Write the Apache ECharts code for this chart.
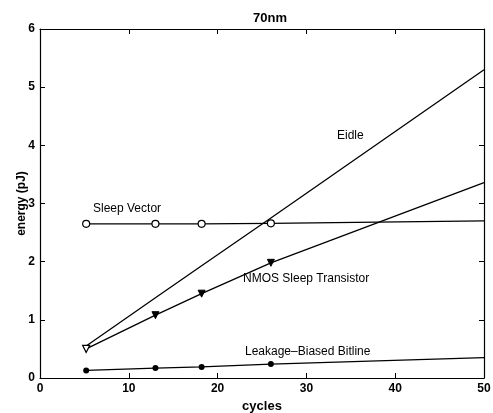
<!DOCTYPE html>
<html>
<head>
<meta charset="utf-8">
<script src="https://cdn.jsdelivr.net/npm/echarts@6/dist/echarts.min.js"></script>
<style>
  html, body { margin: 0; padding: 0; background: #fff; }
  #chart { width: 493px; height: 413px; }
</style>
</head>
<body>
<div id="chart"></div>
<script>
// Idle cycles at which each technique was evaluated
const cycles = [5.2, 13, 18.2, 26, 50];

// Energy (pJ) per technique
const eidle = [0.55, 1.38, 1.93, 2.75, 5.30];
const sleepVector = [2.65, 2.65, 2.65, 2.66, 2.70];
const nmosSleep = [0.50, 1.08, 1.45, 1.98, 3.36];
const leakageBitline = [0.13, 0.17, 0.19, 0.24, 0.35];

// Axis ranges and tick labels
const xTicks = [0, 10, 20, 30, 40, 50];
const yTicks = [0, 1, 2, 3, 4, 5, 6];

const pairs = (ys) => cycles.map((x, i) => [x, ys[i]]);

const FONT = '"Liberation Sans", Arial, sans-serif';
const INK = '#000';

const axisCommon = {
  type: 'value',
  axisLine: { show: true, onZero: false, lineStyle: { color: INK, width: 1.2 } },
  axisTick: { show: true, inside: true, length: 5, lineStyle: { color: INK, width: 1 } },
  splitLine: { show: false }
};

const chart = echarts.init(document.getElementById('chart'), null, { renderer: 'canvas' });

chart.setOption({
  animation: false,
  backgroundColor: '#fff',
  title: {
    text: '70nm',
    left: 265, top: 7, textAlign: 'center',
    textStyle: { fontFamily: FONT, fontSize: 13, fontWeight: 'bold', color: INK }
  },
  grid: { left: 40, right: 9, top: 29, bottom: 35, containLabel: false, outerBoundsMode: 'none' },
  xAxis: [
    Object.assign({}, axisCommon, {
      position: 'bottom',
      min: xTicks[0], max: xTicks[xTicks.length - 1], interval: 10,
      name: 'cycles', nameLocation: 'middle', nameGap: 17,
      nameTextStyle: { fontFamily: FONT, fontSize: 13, fontWeight: 'bold', color: INK },
      axisLabel: { margin: 5, fontFamily: FONT, fontSize: 12, fontWeight: 'bold', color: INK }
    }),
    Object.assign({}, axisCommon, {
      position: 'top',
      min: xTicks[0], max: xTicks[xTicks.length - 1], interval: 10,
      axisLabel: { show: false }
    })
  ],
  yAxis: [
    Object.assign({}, axisCommon, {
      position: 'left',
      min: yTicks[0], max: yTicks[yTicks.length - 1], interval: 1,
      name: 'energy (pJ)', nameLocation: 'middle', nameGap: 12,
      nameMoveOverlap: false,
      nameTextStyle: { fontFamily: FONT, fontSize: 12, fontWeight: 'bold', color: INK },
      axisLabel: { margin: 5, fontFamily: FONT, fontSize: 12, fontWeight: 'bold', color: INK }
    }),
    Object.assign({}, axisCommon, {
      position: 'right',
      min: yTicks[0], max: yTicks[yTicks.length - 1], interval: 1,
      axisLabel: { show: false }
    })
  ],
  series: [
    {
      name: 'Eidle', type: 'line', data: pairs(eidle),
      showSymbol: false, symbol: 'none',
      lineStyle: { color: INK, width: 1.3 }
    },
    {
      name: 'Sleep Vector', type: 'line',
      symbol: 'circle', symbolSize: 7,
      itemStyle: { color: '#fff', borderColor: INK, borderWidth: 1.2 },
      lineStyle: { color: INK, width: 1.3 },
      data: pairs(sleepVector).map((p, i) => i === cycles.length - 1
        ? { value: p, symbol: 'none' } : p)
    },
    {
      name: 'NMOS Sleep Transistor', type: 'line',
      symbol: 'triangle', symbolRotate: 180, symbolSize: 7,
      itemStyle: { color: INK, borderColor: INK, borderWidth: 1 },
      lineStyle: { color: INK, width: 1.3 },
      data: pairs(nmosSleep).map((p, i) => {
        if (i === 0) return { value: p, itemStyle: { color: '#fff', borderColor: INK, borderWidth: 1.3 } };
        if (i === cycles.length - 1) return { value: p, symbol: 'none' };
        return p;
      })
    },
    {
      name: 'Leakage-Biased Bitline', type: 'line',
      symbol: 'circle', symbolSize: 6,
      itemStyle: { color: INK },
      lineStyle: { color: INK, width: 1.3 },
      data: pairs(leakageBitline).map((p, i) => i === cycles.length - 1
        ? { value: p, symbol: 'none' } : p)
    }
  ],
  graphic: [
    { type: 'text', left: 337, top: 130, style: { text: 'Eidle', fontFamily: FONT, fontSize: 12, fill: INK } },
    { type: 'text', left: 93, top: 203, style: { text: 'Sleep Vector', fontFamily: FONT, fontSize: 12, fill: INK } },
    { type: 'text', left: 243, top: 273, style: { text: 'NMOS Sleep Transistor', fontFamily: FONT, fontSize: 12, fill: INK } },
    { type: 'text', left: 245, top: 346, style: { text: 'Leakage\u2013Biased Bitline', fontFamily: FONT, fontSize: 12, fill: INK } }
  ]
});
</script>
</body>
</html>
